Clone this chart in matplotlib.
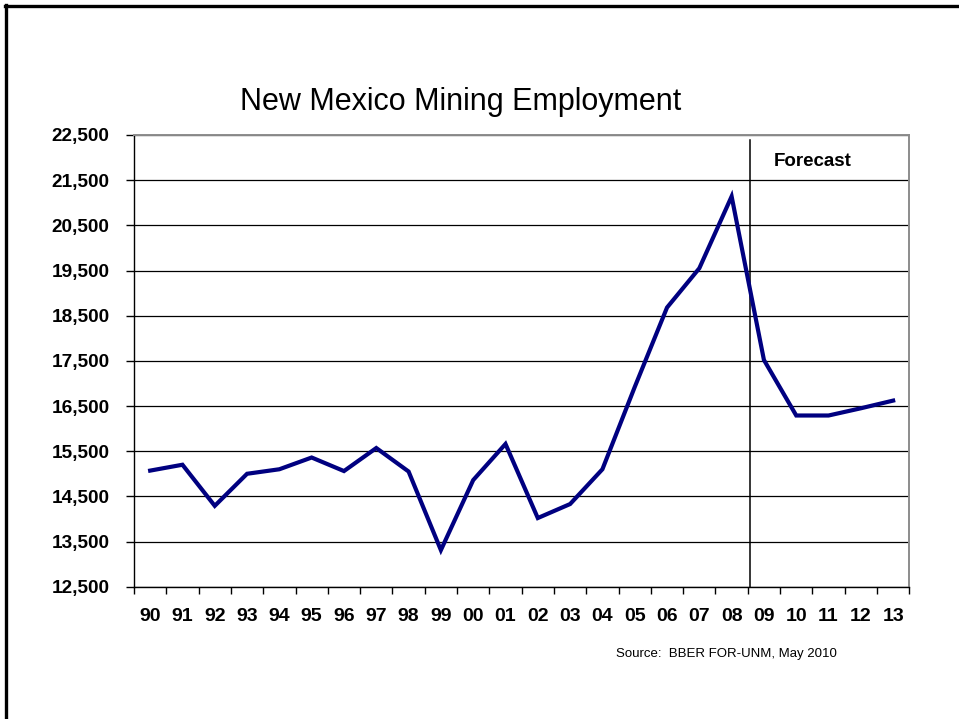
import numpy as np
import matplotlib
matplotlib.use("Agg")
import matplotlib.pyplot as plt
from matplotlib.lines import Line2D
from matplotlib.ticker import FuncFormatter

plt.rcParams['font.family'] = ['Liberation Sans', 'DejaVu Sans']

years = ["90", "91", "92", "93", "94", "95", "96", "97", "98", "99", "00", "01",
         "02", "03", "04", "05", "06", "07", "08", "09", "10", "11", "12", "13"]
employment = [15070, 15200, 14290, 15000, 15100, 15360, 15060, 15570, 15050, 13310,
              14860, 15660, 14020, 14330, 15100, 16920, 18680, 19550, 21140,
              17520, 16290, 16290, 16450, 16620]
y_ticks = [12500, 13500, 14500, 15500, 16500, 17500, 18500, 19500, 20500, 21500, 22500]
forecast_start = 18.58  # divider drawn just after the last actual year (08)

W, H = 959, 719
fig = plt.figure(figsize=(W / 100, H / 100), dpi=100)

# slide frame (top and left edges only fall inside the image)
fig.add_artist(Line2D([6 / W, 6 / W], [0, 1 - 5 / H], color="black", lw=2.4,
                      transform=fig.transFigure))
fig.add_artist(Line2D([5 / W, 1], [1 - 6 / H, 1 - 6 / H], color="black", lw=2.4,
                      transform=fig.transFigure))

ax = fig.add_axes([134 / W, (H - 586.7) / H, 775.3 / W, 451.7 / H])
x = np.arange(len(years))
ax.plot(x, employment, color="#000080", lw=3, solid_joinstyle="miter", zorder=3)

ax.set_xlim(-0.5, len(years) - 0.5)
ax.set_ylim(y_ticks[0], y_ticks[-1])
ax.set_yticks(y_ticks)
ax.yaxis.set_major_formatter(FuncFormatter(lambda v, p: f"{int(v):,}"))
ax.grid(axis="y", color="black", lw=0.9)
ax.set_axisbelow(True)

ax.set_xticks(x)
ax.set_xticklabels(years)
ax.set_xticks(np.arange(-0.5, len(years)), minor=True)
ax.tick_params(axis="x", which="major", length=0, pad=15, labelsize=14)
ax.tick_params(axis="x", which="minor", length=5, width=1, color="black")
ax.tick_params(axis="y", length=6, width=1, pad=11.5, labelsize=13.7)
for lab in ax.get_xticklabels() + ax.get_yticklabels():
    lab.set_fontweight("bold")

for side in ("top", "right"):
    ax.spines[side].set_color("#8c8c8c")
    ax.spines[side].set_linewidth(1.4)
for side in ("left", "bottom"):
    ax.spines[side].set_color("black")
    ax.spines[side].set_linewidth(1)

ax.axvline(forecast_start, ymin=0, ymax=0.989, color="black", lw=1.1, zorder=2)
ax.text(20.5, 22500 - (161.7 - 135) / 45.17 * 1000, "Forecast", ha="center",
        va="center", fontsize=13.5, fontweight="bold")

fig.text(460.5 / W, 1 - 102 / H, "New Mexico Mining Employment", ha="center",
         va="center", fontsize=22)
fig.text(616 / W, 1 - 654 / H, "Source:  BBER FOR-UNM, May 2010", ha="left",
         va="center", fontsize=9.5)

fig.savefig("out.png", dpi=100)
